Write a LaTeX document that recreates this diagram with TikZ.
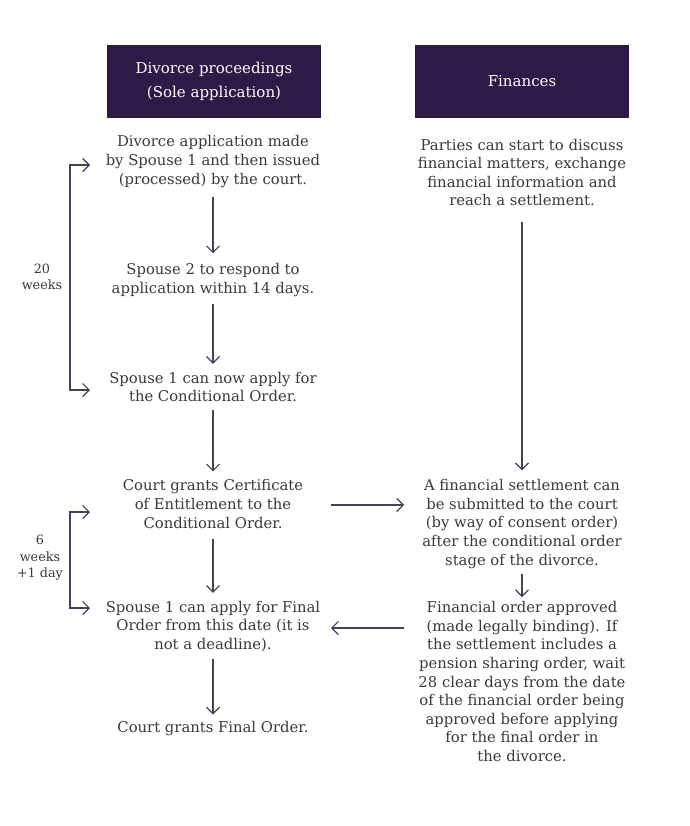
\documentclass[tikz,border=0pt]{standalone}
\usepackage{fontspec}
\setmainfont{DejaVu Serif}
\usetikzlibrary{arrows.meta}
\definecolor{hdr}{HTML}{2E1A47}
\definecolor{txt}{HTML}{3A3A3A}
\definecolor{arr}{HTML}{4A3E5C}
\begin{document}
\begin{tikzpicture}[x=1pt,y=-1pt,
  every node/.style={inner sep=0pt, align=center, text=txt, font=\fontsize{14.8}{18.6}\selectfont},
  hbox/.style={fill=hdr, minimum width=214pt, minimum height=73pt, text=white, font=\fontsize{15}{24}\selectfont},
  flow/.style={draw=arr, line width=1.2pt, -{Straight Barb[length=6.5pt,width=13pt]}},
  brk/.style={draw=arr, line width=1.2pt, {Straight Barb[length=6.5pt,width=13pt]}-{Straight Barb[length=6.5pt,width=13pt]}},
  lbl/.style={font=\fontsize{12.8}{16.5}\selectfont}]
\useasboundingbox (0,0) rectangle (689,826);
\fill[white] (0,0) rectangle (689,826);
% headers
\node[hbox] (h1) at (214,81.5) {Divorce proceedings\\(Sole application)};
\node[hbox] (h2) at (522,81.5) {Finances};
% left column
\node (n1) at (213,161.5) {Divorce application made\\by Spouse 1 and then issued\\(processed) by the court.};
\node (n2) at (213,280) {Spouse 2 to respond to\\application within 14 days.};
\node (n3) at (213,387) {Spouse 1 can now apply for\\the Conditional Order.};
\node (n4) at (213,504) {Court grants Certificate\\of Entitlement to the\\Conditional Order.};
\node (n5) at (213,626.5) {Spouse 1 can apply for Final\\Order from this date (it is\\not a deadline).};
\node (n6) at (213,729) {Court grants Final Order.};
% right column
\node (r1) at (522,172.5) {Parties can start to discuss\\financial matters, exchange\\financial information and\\reach a settlement.};
\node (r2) at (522,524) {A financial settlement can\\be submitted to the court\\(by way of consent order)\\after the conditional order\\stage of the divorce.};
\node (r3) at (522,681.5) {Financial order approved\\(made legally binding). If\\the settlement includes a\\pension sharing order, wait\\28 clear days from the date\\of the financial order being\\approved before applying\\for the final order in\\the divorce.};
% vertical arrows
\draw[flow, shorten <=9pt, shorten >=10pt] (n1) -- (n2);
\draw[flow, shorten <=7pt, shorten >=8pt] (n2) -- (n3);
\draw[flow, shorten <=8pt, shorten >=8pt] (n3) -- (n4);
\draw[flow, shorten <=10pt, shorten >=8pt] (n4) -- (n5);
\draw[flow, shorten <=7pt, shorten >=7pt] (n5) -- (n6);
\draw[flow, shorten <=16pt, shorten >=9pt] (r1) -- (r2);
\draw[flow, shorten <=5pt, shorten >=4pt] (r2) -- (r3);
% horizontal arrows
\coordinate (a1s) at (331,505);
\coordinate (a1e) at (404,505);
\coordinate (a2s) at (404,628);
\coordinate (a2e) at (331,628);
\draw[flow] (a1s) -- (a1e);
\draw[flow] (a2s) -- (a2e);
% brackets
\coordinate (b1t) at (90,165);
\coordinate (b1b) at (90,390);
\draw[brk] (b1t) -- (70,165) -- (70,390) -- (b1b);
\node[lbl] (l1) at (42,277) {20\\weeks};
\coordinate (b2t) at (90,512);
\coordinate (b2b) at (90,608);
\draw[brk] (b2t) -- (70,512) -- (70,608) -- (b2b);
\node[lbl] (l2) at (40,558) {6\\weeks\\+1 day};
\end{tikzpicture}
\end{document}
